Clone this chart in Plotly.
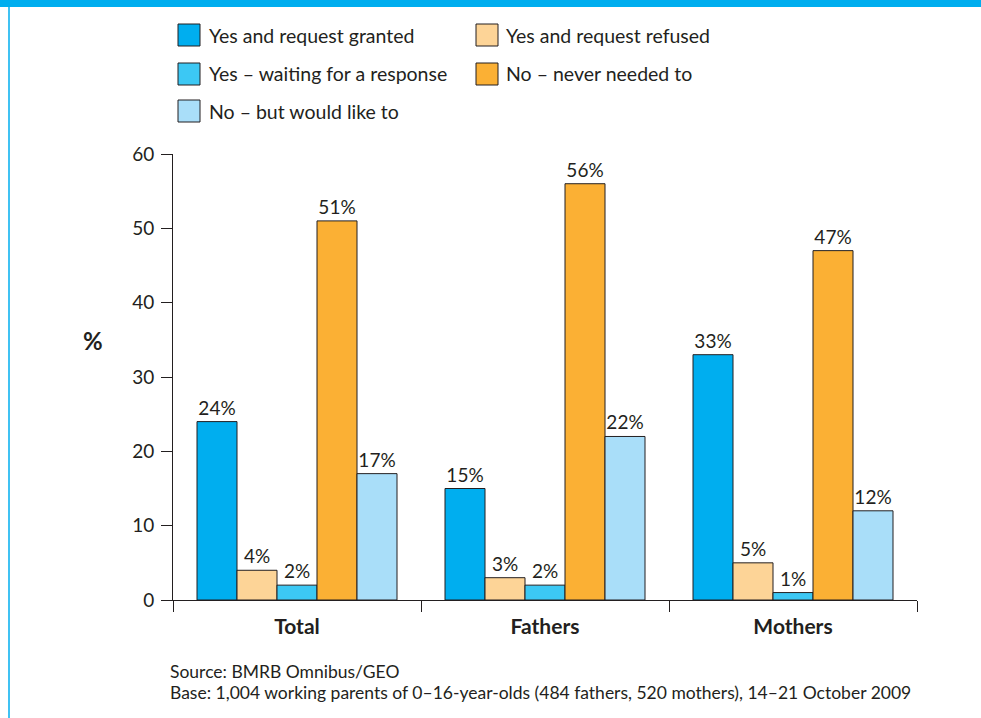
import plotly.graph_objects as go

categories = ["Total", "Fathers", "Mothers"]
series_names = [
    "Yes and request granted",
    "Yes and request refused",
    "Yes – waiting for a response",
    "No – never needed to",
    "No – but would like to",
]
granted = [24, 15, 33]
refused = [4, 3, 5]
waiting = [2, 2, 1]
never = [51, 56, 47]
would_like = [17, 22, 12]
series_values = [granted, refused, waiting, never, would_like]
colors = ["#00AEEF", "#FDD497", "#3CC8F4", "#FBB034", "#A9DEF9"]
y_ticks = [0, 10, 20, 30, 40, 50, 60]

FONT = "Lato, 'Open Sans', sans-serif"
INK = "#231f20"
W, H = 981, 718
L, R, T, B = 173, 64, 154, 118
PW, PH = W - L - R, H - T - B


def px(x):
    return (x - L) / PW


def py(y):
    return (H - B - y) / PH


fig = go.Figure()
for name, vals, col in zip(series_names, series_values, colors):
    fig.add_trace(go.Bar(
        x=categories, y=vals, name=name,
        marker=dict(color=col, line=dict(color=INK, width=1)),
        texttemplate="%{y}%", textposition="outside",
        textfont=dict(family=FONT, size=19, color=INK),
        cliponaxis=False, showlegend=False,
    ))

shapes = []
annotations = []
# manual legend
legend_x_box = [178, 476]
legend_x_text = [207, 504]
legend_rows = [35, 74, 111]
for i, (name, col) in enumerate(zip(series_names, colors)):
    r, c = i // 2, i % 2
    cy = legend_rows[r]
    x0 = legend_x_box[c]
    shapes.append(dict(type="rect", xref="paper", yref="paper",
                       x0=px(x0), x1=px(x0 + 22), y0=py(cy + 11), y1=py(cy - 11),
                       fillcolor=col, line=dict(color=INK, width=1)))
    annotations.append(dict(xref="paper", yref="paper", x=px(legend_x_text[c]), y=py(cy),
                            xanchor="left", yanchor="middle", text=name, showarrow=False,
                            font=dict(family=FONT, size=19.5, color=INK)))

# top bar and left border
shapes.append(dict(type="rect", xref="paper", yref="paper",
                   x0=px(0), x1=px(W), y0=py(7), y1=py(0),
                   fillcolor="#00AEEF", line=dict(width=0), layer="above"))
shapes.append(dict(type="line", xref="paper", yref="paper",
                   x0=px(9), x1=px(9), y0=py(7), y1=py(H),
                   line=dict(color="#00AEEF", width=1.5)))

annotations.append(dict(xref="paper", yref="paper", x=px(93), y=py(340),
                        xanchor="center", yanchor="middle", text="<b>%</b>", showarrow=False,
                        font=dict(family=FONT, size=24, color=INK)))
annotations.append(dict(xref="paper", yref="paper", x=px(168), y=py(671),
                        xanchor="left", yanchor="middle",
                        text="Source: BMRB Omnibus/GEO", showarrow=False,
                        font=dict(family=FONT, size=17.5, color=INK)))
annotations.append(dict(xref="paper", yref="paper", x=px(168), y=py(692),
                        xanchor="left", yanchor="middle",
                        text="Base: 1,004 working parents of 0–16-year-olds (484 fathers, 520 mothers), 14–21 October 2009",
                        showarrow=False, font=dict(family=FONT, size=17.5, color=INK)))

fig.update_layout(
    width=W, height=H,
    margin=dict(l=L, r=R, t=T, b=B, pad=0),
    paper_bgcolor="white", plot_bgcolor="white",
    barmode="group", bargap=48 / 248, bargroupgap=0,
    font=dict(family=FONT, color=INK),
    shapes=shapes, annotations=annotations,
    showlegend=False,
)
fig.update_xaxes(
    showline=True, linecolor=INK, linewidth=1,
    ticks="outside", tickson="boundaries", ticklen=11, tickcolor=INK,
    tickfont=dict(family=FONT, size=21, color=INK, weight="bold"),
    showgrid=False, zeroline=False, ticklabelstandoff=8,
)
fig.update_yaxes(
    range=[0, 60], tickvals=y_ticks,
    showline=True, linecolor=INK, linewidth=1,
    ticks="outside", ticklen=11, tickcolor=INK,
    tickfont=dict(family=FONT, size=19, color=INK),
    showgrid=False, zeroline=False, ticklabelstandoff=3,
)

fig.write_html("out.html", config={"displayModeBar": False},
               post_script="document.body.style.margin='0';document.body.style.overflow='hidden';")
